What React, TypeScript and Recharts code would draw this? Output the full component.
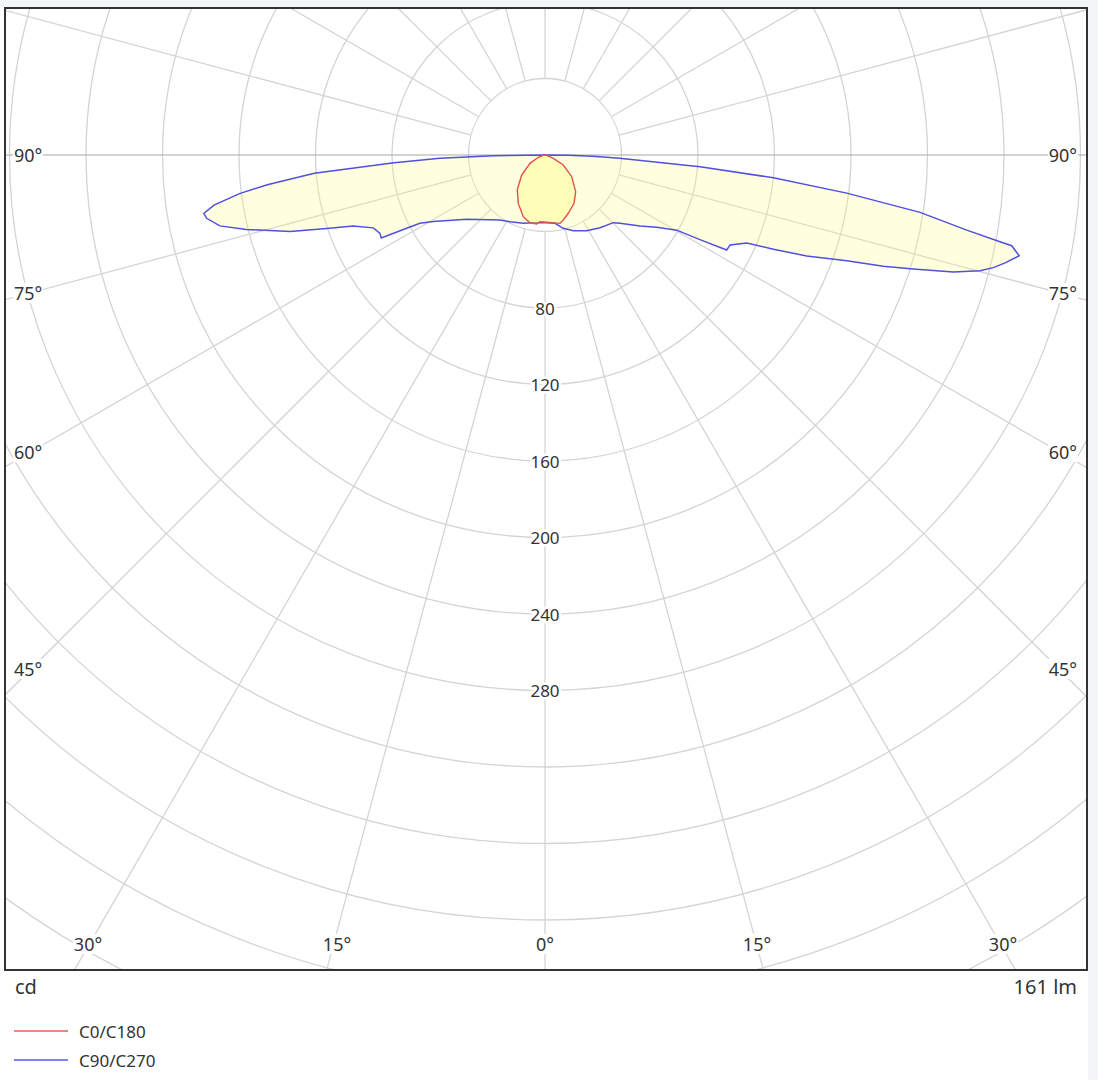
import React from 'react'
import { RadarChart, Radar, PolarGrid, PolarAngleAxis, PolarRadiusAxis } from 'recharts'

// gamma angle (deg from nadir, negative = C180 / C270 side) and intensity (cd)
const c0Angles = [-180, -90, -80, -71, -61, -49.4, -38.4, -28.9, -19.4, -12.5, -6.9, -4.3, 1.4, 12.4, 15.7, 21.8, 31, 39.9, 50.9, 61.3, 68.3, 80, 90, 180]
const c0Values = [0, 0, 1, 3.7, 9, 16.1, 23.3, 28.9, 34.2, 36.3, 36.3, 35, 35.2, 36.6, 35.3, 32.8, 29.5, 25, 18, 10.9, 4.7, 1, 0, 0]

const c90Angles = [
  -180, -90, -89.2, -88.2, -87.1, -85.5, -83.9, -82.8, -81.4, -80.3, -79.4, -77.7, -76, -73.3, -71.2, -69.7,
  -67, -64.6, -63.1, -62.4, -61.4, -59.2, -50.6, -34.7, -27.7, -17.6, -9.8, 0, 1.4, 8.3, 14, 20.5, 28.8,
  37.1, 45.3, 47.7, 53.2, 57.1, 60.3, 61.4, 62.4, 64.1, 66.4, 67.6, 68.9, 70.7, 71.8, 72.8, 74, 75.1, 75.9,
  76.8, 78, 79, 79.2, 79.9, 81.3, 82.8, 84.3, 85.7, 87.5, 88.4, 89.2, 90, 180,
]
const c90Values = [
  0, 0, 27, 55, 79, 121, 146, 161, 175, 181, 180, 174, 161, 139, 119, 107,
  97.5, 95.5, 96, 85.5, 74.5, 68, 53, 41.3, 39.4, 37.5, 35.9, 35.4, 35.4, 36.1, 39.5, 42.3, 45.2,
  47.7, 50.3, 53, 62, 69.6, 79.3, 93, 107.2, 107.6, 115.1, 129.2, 146.7, 167.2, 186.2, 201.6, 222.1, 235.4, 241.7,
  247.1, 253.5, 248.6, 242.2, 224, 198.4, 159, 120, 81.3, 39, 25, 12, 0, 0,
]

const ringValues = [40, 80, 120, 160, 200, 240, 280, 320, 360, 400, 440, 480, 520, 560]
const radiusLabels = [80, 120, 160, 200, 240, 280]
const spokeAngles = [-165, -150, -135, -120, -105, -75, -60, -45, -30, -15, 0, 15, 30, 45, 60, 75, 105, 120, 135, 150, 165, 180]
const horizonAngles = [-90, 90]

const sideLabels = ['90°', '75°', '60°', '45°']
const bottomLabels = ['30°', '15°', '0°', '15°', '30°']
const unitLabel = 'cd'
const fluxLabel = '161 lm'
const legendNames = ['C0/C180', 'C90/C270']

// layout
const FONT = "'Noto Sans', sans-serif"
const PLOT_W = 1080
const PLOT_H = 960
const CX = 539
const CY = 146
const RADIUS_MAX = 600
const PX_PER_CD = 76.5 / 40
const R_OUT = RADIUS_MAX * PX_PER_CD
const sideLabelY = [155, 293, 452, 669]
const bottomLabelX = [88, 337, 545, 757, 1003]
const legendColors = ['#ef8282', '#8282ef']

const toChartAngle = (g: number) => 270 + g

const c0Data = c0Angles.map((a, i) => ({ angle: a, cd: c0Values[i] }))
const c90Data = c90Angles.map((a, i) => ({ angle: a, cd: c90Values[i] }))

const chartProps = {
  width: PLOT_W,
  height: PLOT_H,
  cx: CX,
  cy: CY,
  startAngle: 90,
  endAngle: 450,
  innerRadius: 0,
  outerRadius: R_OUT,
  margin: { top: 0, right: 0, bottom: 0, left: 0 },
}

const layer: React.CSSProperties = { position: 'absolute', left: 0, top: 0 }

const renderRadiusTick = (props: any) => {
  const v = props.payload?.value
  if (!radiusLabels.includes(v)) return <g />
  return (
    <text
      x={props.x}
      y={props.y}
      textAnchor="middle"
      dominantBaseline="central"
      fontFamily={FONT}
      fontSize={17}
      fill="#333"
      stroke="#fff"
      strokeWidth={5}
      paintOrder="stroke"
    >
      {v}
    </text>
  )
}

const labelStyle: React.CSSProperties = {
  position: 'absolute',
  fontFamily: FONT,
  fontSize: 18,
  lineHeight: 1,
  color: '#333',
  background: '#fff',
  padding: '1px 1px',
  whiteSpace: 'nowrap',
}

export default function App() {
  return (
    <div style={{ position: 'absolute', left: 0, top: 0, width: 1098, height: 1080, background: '#f4f5f7' }}>
      <div style={{ position: 'absolute', left: 0, top: 7, width: 1088, height: 1073, background: '#fff' }} />

      <div
        style={{
          position: 'absolute',
          left: 4,
          top: 7,
          width: 1084,
          height: 964,
          border: '2px solid #333',
          boxSizing: 'border-box',
          overflow: 'hidden',
          background: '#fff',
        }}
      >
        {/* spokes start at the 40 cd ring */}
        <div style={layer}>
          <RadarChart {...chartProps} innerRadius={40 * PX_PER_CD} data={c90Data}>
            <PolarGrid
              gridType="circle"
              polarAngles={spokeAngles.map(toChartAngle)}
              polarRadius={[]}
              stroke="#d4d4d4"
              strokeWidth={1.3}
            />
          </RadarChart>
        </div>

        <div style={layer}>
          <RadarChart {...chartProps} data={c90Data}>
            <PolarGrid
              gridType="circle"
              radialLines={false}
              polarAngles={[]}
              polarRadius={ringValues.map((v) => v * PX_PER_CD)}
              stroke="#d4d4d4"
              strokeWidth={1.3}
            />
            <PolarGrid
              gridType="circle"
              polarAngles={horizonAngles.map(toChartAngle)}
              polarRadius={[]}
              stroke="#a8a8a8"
              strokeWidth={1.2}
            />
            <PolarAngleAxis dataKey="angle" type="number" domain={[-180, 180]} tick={false} axisLine={false} tickLine={false} />
            <PolarRadiusAxis
              angle={270}
              type="number"
              domain={[0, RADIUS_MAX]}
              ticks={radiusLabels as any}
              tickCount={16}
              axisLine={false}
              tickLine={false}
              tick={renderRadiusTick}
            />
            <Radar
              name="C90/C270"
              dataKey="cd"
              stroke="#5050dc"
              strokeWidth={1.5}
              fill="#ffff80"
              fillOpacity={0.25}
              dot={false}
              isAnimationActive={false}
            />
          </RadarChart>
        </div>

        <div style={layer}>
          <RadarChart {...chartProps} data={c0Data}>
            <PolarAngleAxis dataKey="angle" type="number" domain={[-180, 180]} tick={false} axisLine={false} tickLine={false} />
            <PolarRadiusAxis angle={270} type="number" domain={[0, RADIUS_MAX]} tick={false} axisLine={false} tickLine={false} />
            <Radar
              name="C0/C180"
              dataKey="cd"
              stroke="#e05050"
              strokeWidth={1.4}
              fill="#ffff80"
              fillOpacity={0.4}
              dot={false}
              isAnimationActive={false}
            />
          </RadarChart>
        </div>
      </div>

      {sideLabels.map((t, i) => (
        <React.Fragment key={t}>
          <span style={{ ...labelStyle, left: 13, top: sideLabelY[i], transform: 'translateY(-50%)' }}>{t}</span>
          <span style={{ ...labelStyle, right: 1098 - 1078, top: sideLabelY[i], transform: 'translateY(-50%)' }}>{t}</span>
        </React.Fragment>
      ))}
      {bottomLabels.map((t, i) => (
        <span key={i} style={{ ...labelStyle, left: bottomLabelX[i], top: 944, transform: 'translate(-50%, -50%)' }}>
          {t}
        </span>
      ))}

      <span style={{ ...labelStyle, background: 'none', fontSize: 20, left: 14, top: 987, transform: 'translateY(-50%)' }}>{unitLabel}</span>
      <span style={{ ...labelStyle, background: 'none', fontSize: 20, right: 1098 - 1078, top: 987, transform: 'translateY(-50%)' }}>{fluxLabel}</span>

      {legendNames.map((n, i) => (
        <React.Fragment key={n}>
          <div style={{ position: 'absolute', left: 14, top: 1030 + i * 29, width: 54, height: 1.5, background: legendColors[i] }} />
          <span style={{ ...labelStyle, background: 'none', fontSize: 17, left: 78, top: 1031 + i * 29, transform: 'translateY(-50%)' }}>{n}</span>
        </React.Fragment>
      ))}
    </div>
  )
}
